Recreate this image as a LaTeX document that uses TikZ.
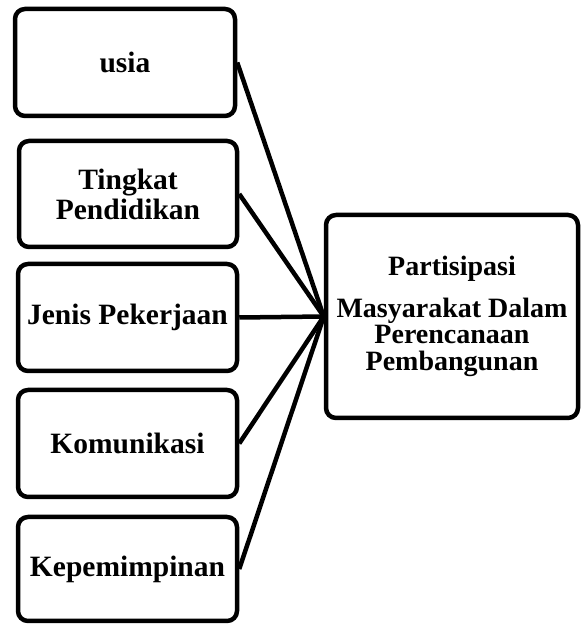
\documentclass[tikz,border=0pt]{standalone}
\usepackage{fontspec}
\setmainfont{Liberation Serif}
\begin{document}
\begin{tikzpicture}[x=1pt,y=1pt,
  box/.style={draw, line width=4.5pt, rounded corners=10pt, align=center,
    font=\bfseries\fontsize{29.5}{30}\selectfont, inner sep=0pt},
  bigbox/.style={box, font=\bfseries\fontsize{28}{26.5}\selectfont},
  link/.style={line width=4.5pt}]
\useasboundingbox (0,0) rectangle (582,624);
\node[box, minimum width=220pt, minimum height=107pt] (b1) at (125,561.5) {usia};
\node[box, minimum width=218pt, minimum height=106pt] (b2) at (128,430) {Tingkat\\Pendidikan};
\node[box, minimum width=219pt, minimum height=107pt] (b3) at (127.5,306.5) {Jenis Pekerjaan};
\node[box, minimum width=219pt, minimum height=107pt] (b4) at (127.5,180.5) {Komunikasi};
\node[box, minimum width=219pt, minimum height=104pt] (b5) at (127.5,55) {Kepemimpinan};
\node[bigbox, minimum width=252pt, minimum height=203pt] (r) at (452,307.5)
  {Partisipasi\\[15pt]Masyarakat Dalam\\Perencanaan\\Pembangunan};
\foreach \b in {b1,b2,b3,b4,b5}
  \draw[link] (\b.east) -- (r.west);
\end{tikzpicture}
\end{document}
